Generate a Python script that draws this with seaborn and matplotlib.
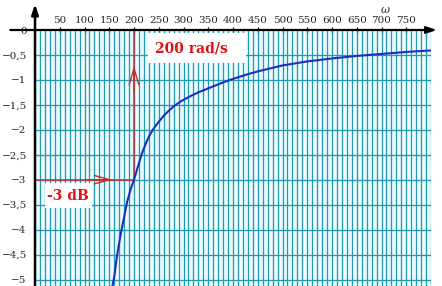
import matplotlib
matplotlib.use("Agg")
import matplotlib.pyplot as plt
import seaborn as sns
import pandas as pd
from matplotlib.patches import FancyArrowPatch, Rectangle

# ---- data ----
omega = [156, 160, 166, 173, 180, 186, 193, 200, 206, 212, 218, 225, 232, 240, 250,
         260, 270, 280, 290, 300, 315, 330, 345, 360, 380, 400, 425, 450, 475, 500,
         550, 600, 650, 700, 750, 800]
gain_db = [-5.15, -4.95, -4.5, -4.1, -3.75, -3.45, -3.2, -3.0, -2.8, -2.6, -2.42,
           -2.25, -2.1, -1.97, -1.84, -1.72, -1.62, -1.53, -1.46, -1.40, -1.32,
           -1.25, -1.19, -1.13, -1.05, -0.98, -0.9, -0.83, -0.77, -0.71, -0.63,
           -0.57, -0.52, -0.48, -0.44, -0.41]
x_ticks = list(range(50, 800, 50))
y_ticks = [0, -0.5, -1, -1.5, -2, -2.5, -3, -3.5, -4, -4.5, -5]
y_tick_labels = ["0", "−0,5", "−1", "−1,5", "−2", "−2,5", "−3", "−3,5", "−4", "−4,5", "−5"]
cut_omega = 200
cut_db = -3

sns.set_style("white")
plt.rcParams['font.family'] = ['DejaVu Serif']

fig = plt.figure(figsize=(4.42, 2.86), dpi=100)
ax = fig.add_axes([35 / 442, 0, 396 / 442, 256 / 286])
ax.set_xlim(0, 800)
ax.set_ylim(-5.13, 0)
ax.set_facecolor('#eefbfd')

grid_c = '#2399b2'
# grid
for gx in range(10, 801, 10):
    ax.plot([gx, gx], [-5.13, 0], color=grid_c, lw=0.95, zorder=1)
for gy in y_ticks[1:]:
    ax.plot([0, 800], [gy, gy], color=grid_c, lw=0.95, zorder=1)

# curve
df = pd.DataFrame({"omega": omega, "G": gain_db})
sns.lineplot(data=df, x="omega", y="G", ax=ax, color='#1a2fc0', lw=1.5, zorder=5)

# annotation boxes
ax.add_patch(Rectangle((228, -0.66), 198, 0.60, facecolor='white', edgecolor='none', zorder=3))
ax.add_patch(Rectangle((20, -3.57), 95, 0.50, facecolor='white', edgecolor='none', zorder=3))

red = '#cc2a2a'
ax.plot([cut_omega, cut_omega], [cut_db, 0], color=red, lw=1.1, zorder=4)
ax.plot([0, cut_omega], [cut_db, cut_db], color=red, lw=1.1, zorder=4)
ax.add_patch(FancyArrowPatch((cut_omega, -1.3), (cut_omega, -0.66),
                             arrowstyle='->,head_length=12,head_width=3.5',
                             mutation_scale=1, color=red, lw=1.0, zorder=4))
ax.add_patch(FancyArrowPatch((100, cut_db), (162, cut_db),
                             arrowstyle='->,head_length=11,head_width=3',
                             mutation_scale=1, color=red, lw=1.0, zorder=4))

ax.text(242, -0.38, "200 rad/s", color='#dd1111', fontsize=10, fontweight='bold',
        ha='left', va='center', zorder=6)
ax.text(67, -3.33, "-3 dB", color='#dd1111', fontsize=10, fontweight='bold',
        ha='center', va='center', zorder=6)

# axes with arrows
for s in ax.spines.values():
    s.set_visible(False)
ax.annotate('', xy=(812, 0), xytext=(-50, 0), annotation_clip=False,
            arrowprops=dict(arrowstyle='-|>,head_length=0.6,head_width=0.2', color='k', lw=1.6,
                            shrinkA=0, shrinkB=0), zorder=7)
ax.annotate('', xy=(0, 0.52), xytext=(0, -5.13), annotation_clip=False,
            arrowprops=dict(arrowstyle='-|>,head_length=0.6,head_width=0.2', color='k', lw=1.8,
                            shrinkA=0, shrinkB=0), zorder=7)

ax.xaxis.tick_top()
ax.set_xticks(x_ticks)
ax.set_xticklabels([str(v) for v in x_ticks])
ax.tick_params(axis='x', direction='inout', length=5, width=0.9, color='k',
               labelsize=7.5, pad=1)
ax.set_yticks(y_ticks)
ax.set_yticklabels(y_tick_labels)
ax.tick_params(axis='y', direction='out', length=4, width=0.9, color='k',
               labelsize=7.5, pad=2)
ax.set_xlabel("")
ax.set_ylabel("")
ax.text(707, 0.4, "ω", fontsize=8, style='italic', ha='center', va='center')

fig.savefig("out.png", dpi=100)
